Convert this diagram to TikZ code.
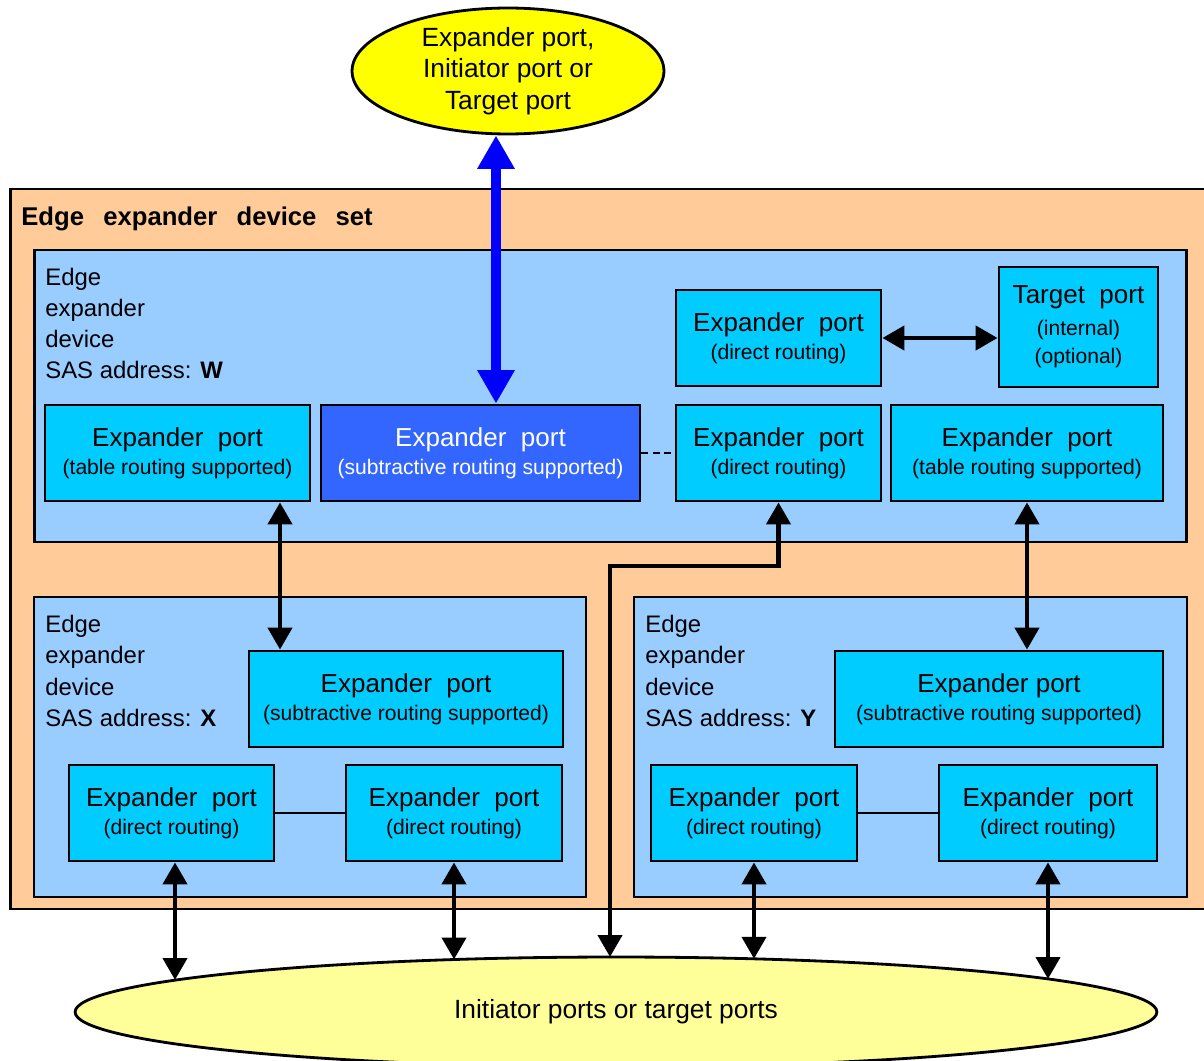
\documentclass[tikz,border=0pt]{standalone}
\usepackage{fontspec}
\setmainfont{Liberation Sans}
\usetikzlibrary{arrows.meta,shapes.geometric}

\definecolor{setfill}{HTML}{FFCC99}
\definecolor{devfill}{HTML}{99CCFF}
\definecolor{portfill}{HTML}{00CCFF}
\definecolor{subfill}{HTML}{3366FF}
\definecolor{hostfill}{HTML}{FFFF00}
\definecolor{endfill}{HTML}{FFFF99}
\definecolor{linkblue}{HTML}{0000FF}

% first line of a port box is set larger than its routing note
\newcommand\portmain[1]{{\fontsize{14.8}{16}\selectfont #1}}

\tikzset{
  setbox/.style={draw, line width=1.6pt, fill=setfill, inner sep=0pt},
  devbox/.style={draw, line width=1.6pt, fill=devfill, inner sep=0pt},
  portbox/.style={draw, line width=1.6pt, fill=portfill, inner sep=0pt,
    minimum height=1.92cm, align=center, font=\fontsize{12}{16}\selectfont},
  subbox/.style={portbox, fill=subfill, text=white},
  devlabel/.style={anchor=north west, inner sep=0pt, align=left,
    font=\fontsize{13.6}{17.8}\selectfont},
  blob/.style={ellipse, draw, line width=1.6pt, inner sep=0pt, align=center,
    font=\fontsize{15}{17.9}\selectfont},
  link/.style={line width=2.8pt,
    {Triangle[length=12.5pt,width=13.5pt]}-{Triangle[length=12.5pt,width=13.5pt]}},
  uplink/.style={line width=6.2pt, draw=linkblue,
    {Triangle[length=19pt,width=20pt,fill=linkblue]}-{Triangle[length=19pt,width=20pt,fill=linkblue]}},
  plainlink/.style={line width=1.3pt},
  dashlink/.style={line width=1.3pt, dash pattern=on 4pt off 2.5pt},
}

\begin{document}
\begin{tikzpicture}[x=0.02cm, y=-0.02cm]
\useasboundingbox (0,0) rectangle (1204,1061);

% external port above the set
\node[blob, fill=hostfill, minimum width=6.24cm, minimum height=2.52cm] (host) at (508,71)
  {Expander port,\\Initiator port or\\Target port};

% the edge expander device set
\node[setbox, minimum width=23.92cm, minimum height=14.4cm] (set) at (608,549) {};
\node[anchor=base west, inner sep=0pt, font=\bfseries\fontsize{14.6}{17}\selectfont] (settitle) at (21,225)
  {Edge\hspace{0.75em}expander\hspace{0.75em}device\hspace{0.75em}set};

% devices
\node[devbox, minimum width=23.06cm, minimum height=5.84cm] (devw) at (610.5,396) {};
\node[devbox, minimum width=11.04cm, minimum height=6cm] (devx) at (310,747) {};
\node[devbox, minimum width=11.06cm, minimum height=6cm] (devy) at (910.5,747) {};

\node[devlabel] (lblw) at (45,267.5) {Edge\\expander\\device\\SAS address: \textbf{W}};
\node[devlabel] (lblx) at (45,615) {Edge\\expander\\device\\SAS address: \textbf{X}};
\node[devlabel] (lbly) at (645,615) {Edge\\expander\\device\\SAS address: \textbf{Y}};

% ports of device W
\node[portbox, minimum width=5.3cm] (wtl) at (177.5,453)
  {\portmain{Expander\ \ port}\\(table routing supported)};
\node[subbox, minimum width=6.38cm] (wsub) at (480.5,453)
  {\portmain{Expander\ \ port}\\(subtractive routing supported)};
\node[portbox, minimum width=4.1cm] (wdm) at (778.5,453)
  {\portmain{Expander\ \ port}\\(direct routing)};
\node[portbox, minimum width=5.44cm] (wtr) at (1027,453)
  {\portmain{Expander\ \ port}\\(table routing supported)};
\node[portbox, minimum width=4.1cm] (wdu) at (778.5,338)
  {\portmain{Expander\ \ port}\\(direct routing)};
\node[portbox, minimum width=3.18cm, minimum height=2.4cm] (tgt) at (1078.5,327)
  {\portmain{Target\ \ port}\\[2pt](internal)\\(optional)};

% ports of device X
\node[portbox, minimum width=6.28cm] (xsub) at (406,699)
  {\portmain{Expander\ \ port}\\(subtractive routing supported)};
\node[portbox, minimum width=4.1cm] (xdl) at (171.5,813)
  {\portmain{Expander\ \ port}\\(direct routing)};
\node[portbox, minimum width=4.32cm] (xdr) at (454,813)
  {\portmain{Expander\ \ port}\\(direct routing)};

% ports of device Y
\node[portbox, minimum width=6.56cm] (ysub) at (999,699)
  {\portmain{Expander port}\\(subtractive routing supported)};
\node[portbox, minimum width=4.12cm] (ydl) at (754,813)
  {\portmain{Expander\ \ port}\\(direct routing)};
\node[portbox, minimum width=4.36cm] (ydr) at (1048,813)
  {\portmain{Expander\ \ port}\\(direct routing)};

% end devices below the set
\node[blob, fill=endfill, minimum width=21.64cm, minimum height=2.2cm] (ends) at (616,1012)
  {Initiator ports or target ports};

% points where the links meet the lower ellipse
\coordinate (e1) at (175,980);
\coordinate (e2) at (454,959.5);
\coordinate (e3) at (610,957);
\coordinate (e4) at (754,958.8);
\coordinate (e5) at (1048,979);

% internal connections
\draw[dashlink] (wsub.east) -- (wdm.west);
\draw[plainlink] (xdl.east) -- (xdr.west);
\draw[plainlink] (ydl.east) -- (ydr.west);
\draw[link] (wdu.east) -- (wdu.east -| tgt.west);

% links between devices
\draw[uplink] (496,0 |- host.south) -- (496,0 |- wsub.north);
\draw[link] (280,0 |- wtl.south) -- (280,0 |- xsub.north);
\draw[link] (wtr.south) -- (wtr.south |- ysub.north);
\draw[link] (wdm.south) -- (wdm.south |- 0,566) -| (e3);

% links to the end devices
\draw[link] (175,0 |- xdl.south) -- (e1);
\draw[link] (xdr.south) -- (e2);
\draw[link] (ydl.south) -- (e4);
\draw[link] (ydr.south) -- (e5);
\end{tikzpicture}
\end{document}
